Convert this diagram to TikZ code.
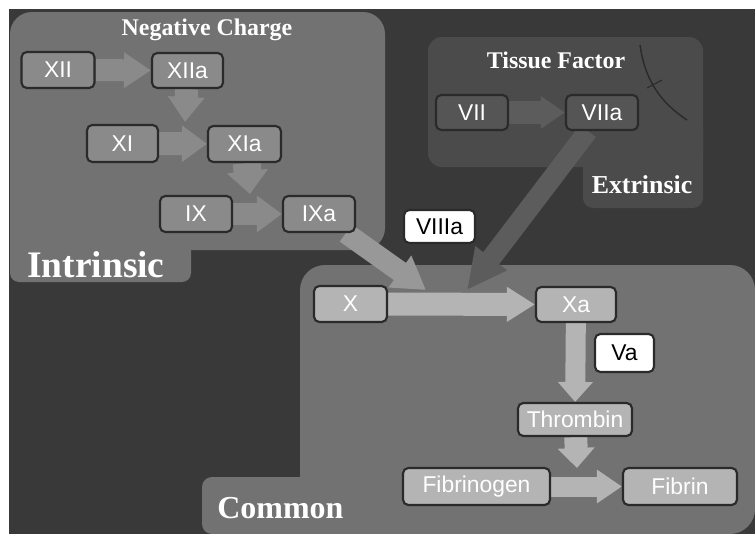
\documentclass[tikz,border=0pt]{standalone}
\usepackage{fontspec}
\setmainfont{Liberation Serif}
\setsansfont{Liberation Sans}
\usepackage{xcolor}
\definecolor{colBg}{HTML}{393939}
\definecolor{colRegion}{HTML}{727272}
\definecolor{colRegionDark}{HTML}{4B4B4B}
\definecolor{colBoxMid}{HTML}{8A8A8A}
\definecolor{colBoxLight}{HTML}{B4B4B4}
\definecolor{colBoxDark}{HTML}{555555}
\definecolor{colArrowDark}{HTML}{5C5C5C}
\definecolor{colArrowDiag}{HTML}{989898}
\definecolor{colEdge}{HTML}{2A2A2A}
\usepackage{tikz}
\usetikzlibrary{arrows.meta, backgrounds}

\tikzset{
  factor/.style={draw=colEdge, line width=1.2pt, rounded corners=3pt, text=white,
    font=\sffamily\fontsize{13}{15}\selectfont, inner sep=0pt},
  cofactor/.style={factor, fill=white, text=black},
  fatarrow/.style n args={3}{line width=#1, -{Triangle[width=#2, length=#3]}},
  title/.style={text=white, inner sep=0pt, font=\bfseries\fontsize{13.6}{16}\selectfont},
}

\begin{document}
\begin{tikzpicture}[x=0.02cm, y=-0.02cm]
        % Scale: 1px -> 0.02cm
        \useasboundingbox (0,0) rectangle (755,534);
        \begin{scope}[on background layer]
        \fill[colBg] (9,9) rectangle (755,534);
        % Regions
        \fill[colRegion, rounded corners=0.44cm] (10,12) rectangle (385,250); % intrinsic
        \fill[colRegion, rounded corners=0.18cm] (10,200) rectangle (191,282);
        \fill[colRegionDark, rounded corners=0.28cm] (428,37) rectangle (703,167); % extrinsic
        \fill[colRegionDark, rounded corners=0.2cm] (583,120) rectangle (703,208);
        \fill[colRegion, rounded corners=0.5cm] (300,265) rectangle (755,534); % common
        \fill[colRegion, rounded corners=0.2cm] (202,477) rectangle (400,534);
        % Mark in extrinsic region
        \draw[colEdge, line width=0.8pt] (640,45) .. controls (645,80) and (660,102) .. (687,120);
        \draw[colEdge, line width=0.6pt] (647,88) -- (662,80);
        \end{scope}
        % Region labels
        \node[title, anchor=base] (negcharge) at (207,35) {Negative Charge};
        \node[title, anchor=base] (tissue) at (556,69) {Tissue Factor};
        \node[title, anchor=base, font=\bfseries\fontsize{14.7}{17}\selectfont] (extrinsic) at (642,193) {Extrinsic};
        \node[title, anchor=base west, font=\bfseries\fontsize{21.3}{24}\selectfont] (intrinsic) at (27,277) {Intrinsic};
        \node[title, anchor=base west, font=\bfseries\fontsize{18.2}{21}\selectfont] (common) at (217,518) {Common};
        % Intrinsic factors
        \node[factor, fill=colBoxMid, minimum width=1.46cm, minimum height=0.72cm] (xii) at (58,70) {XII};
        \node[factor, fill=colBoxMid, minimum width=1.42cm, minimum height=0.70cm] (xiia) at (187.5,70.5) {XIIa};
        \node[factor, fill=colBoxMid, minimum width=1.42cm, minimum height=0.74cm] (xi) at (122.5,143.5) {XI};
        \node[factor, fill=colBoxMid, minimum width=1.46cm, minimum height=0.72cm] (xia) at (244.5,144) {XIa};
        \node[factor, fill=colBoxMid, minimum width=1.44cm, minimum height=0.72cm] (ix) at (196,214) {IX};
        \node[factor, fill=colBoxMid, minimum width=1.44cm, minimum height=0.72cm] (ixa) at (319,214) {IXa};
        % Extrinsic factors
        \node[factor, fill=colBoxDark, minimum width=1.44cm, minimum height=0.70cm] (vii) at (472,112.5) {VII};
        \node[factor, fill=colBoxDark, minimum width=1.44cm, minimum height=0.70cm] (viia) at (602,112.5) {VIIa};
        % Common factors
        \node[factor, fill=colBoxLight, minimum width=1.46cm, minimum height=0.72cm] (x) at (350.5,304) {X};
        \node[factor, fill=colBoxLight, minimum width=1.60cm, minimum height=0.70cm] (xa) at (576,304.5) {Xa};
        \node[factor, fill=colBoxLight, minimum width=2.28cm, minimum height=0.66cm] (thrombin) at (575,419.5) {Thrombin};
        \node[factor, fill=colBoxLight, minimum width=2.94cm, minimum height=0.74cm] (fibrinogen) at (476.5,486.5) {Fibrinogen};
        \node[factor, fill=colBoxLight, minimum width=2.28cm, minimum height=0.74cm] (fibrin) at (680,486.5) {Fibrin};
        % Cofactors
        \node[cofactor, minimum width=1.42cm, minimum height=0.66cm] (viiia) at (439.5,226.5) {VIIIa};
        \node[cofactor, minimum width=1.18cm, minimum height=0.76cm] (va) at (624.5,353) {Va};
        % Arrow tips landing on other arrows
        \coordinate (xiTip) at (185,122);
        \coordinate (ixTip) at (250,194);
        \coordinate (xTipA) at (426,290);
        \coordinate (xTipB) at (467,290);
        \coordinate (fibTip) at (577,468);
        % Arrows (under the boxes)
        \begin{scope}[on background layer]
        \draw[fatarrow={0.44cm}{0.68cm}{0.54cm}, colBoxMid] (xii) -- (xiia);
        \draw[fatarrow={0.46cm}{0.70cm}{0.50cm}, colBoxMid] (xiia) -- (xiTip);
        \draw[fatarrow={0.46cm}{0.70cm}{0.50cm}, colBoxMid] (xi) -- (xia);
        \draw[fatarrow={0.56cm}{0.80cm}{0.46cm}, colBoxMid] (xia) -- (ixTip);
        \draw[fatarrow={0.46cm}{0.70cm}{0.50cm}, colBoxMid] (ix) -- (ixa);
        \draw[fatarrow={0.42cm}{0.74cm}{0.64cm}, colArrowDiag] (ixa) -- (xTipA);
        \draw[fatarrow={0.46cm}{0.62cm}{0.48cm}, colArrowDark] (vii) -- (viia);
        \draw[fatarrow={0.40cm}{0.74cm}{0.80cm}, colArrowDark] (viia) -- (xTipB);
        \draw[fatarrow={0.46cm}{0.66cm}{0.56cm}, colBoxLight] (x) -- (xa);
        \draw[fatarrow={0.40cm}{0.68cm}{0.40cm}, colBoxLight] (xa) -- (thrombin);
        \draw[fatarrow={0.46cm}{0.72cm}{0.40cm}, colBoxLight] (thrombin) -- (fibTip);
        \draw[fatarrow={0.40cm}{0.64cm}{0.50cm}, colBoxLight] (fibrinogen) -- (fibrin);
        \end{scope}
    \end{tikzpicture}
\end{document}
